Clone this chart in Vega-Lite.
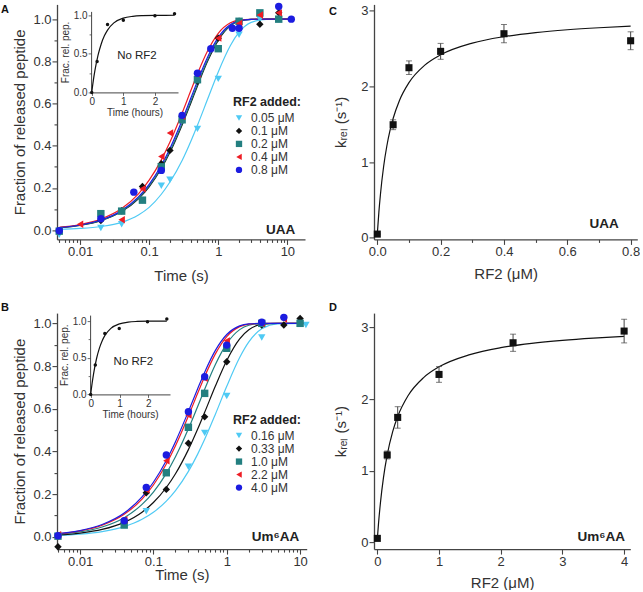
{
  "$schema": "https://vega.github.io/schema/vega-lite/v6.json",
  "background": "white",
  "padding": {"left": 1, "top": 2.4, "right": 0, "bottom": 0},
  "columns": 2,
  "align": "each",
  "spacing": {"row": 17.7, "column": 19},
  "resolve": {"scale": {"color": "independent", "shape": "independent", "stroke": "independent"}},
  "concat": [
    {
      "title": {"text": "A", "dx": -56, "dy": 12.6, "offset": 0},
      "width": 248, "height": 235,
      "resolve": {"scale": {"x": "independent", "y": "independent"}},
      "layer": [
        {
          "encoding": {
            "x": {"field": "t", "type": "quantitative", "scale": {"type": "log", "domain": [0.00464, 18], "nice": false},
              "axis": {"title": "Time (s)", "titlePadding": 10.5,
                "values": [0.005,0.006,0.007,0.008,0.009,0.01,0.02,0.03,0.04,0.05,0.06,0.07,0.08,0.09,0.1,0.2,0.3,0.4,0.5,0.6,0.7,0.8,0.9,1,2,3,4,5,6,7,8,9,10],
                "labelExpr": "datum.value == 0.01 || datum.value == 0.1 || datum.value == 1 || datum.value == 10 ? datum.value + '' : ''",
                "tickSize": {"condition": {"test": "datum.value == 0.01 || datum.value == 0.1 || datum.value == 1 || datum.value == 10", "value": 5}, "value": 3}}},
            "y": {"field": "f", "type": "quantitative", "scale": {"domain": [-0.044, 1.07], "nice": false, "zero": false},
              "axis": {"title": "Fraction of released peptide", "titlePadding": 5,
                "values": [0,0.1,0.2,0.3,0.4,0.5,0.6,0.7,0.8,0.9,1], "format": ".1f",
                "labelExpr": "round(datum.value*10) % 2 == 0 ? datum.label : ''",
                "tickSize": {"condition": {"test": "round(datum.value*10) % 2 == 0", "value": 5}, "value": 3}}}
          },
          "layer": [
            {
              "data": {"values": [
                {"t":0.005,"f":0.004,"c":"0.05"},{"t":0.01,"f":0.008,"c":"0.05"},{"t":0.02,"f":0.017,"c":"0.05"},{"t":0.04,"f":0.037,"c":"0.05"},{"t":0.07,"f":0.072,"c":"0.05"},{"t":0.1,"f":0.108,"c":"0.05"},{"t":0.15,"f":0.17,"c":"0.05"},{"t":0.2,"f":0.228,"c":"0.05"},{"t":0.3,"f":0.33,"c":"0.05"},{"t":0.4,"f":0.42,"c":"0.05"},{"t":0.5,"f":0.497,"c":"0.05"},{"t":0.7,"f":0.62,"c":"0.05"},{"t":1,"f":0.75,"c":"0.05"},{"t":1.5,"f":0.875,"c":"0.05"},{"t":2,"f":0.938,"c":"0.05"},{"t":3,"f":0.985,"c":"0.05"},{"t":5,"f":0.999,"c":"0.05"},{"t":12,"f":1.0,"c":"0.05"},
                {"t":0.005,"f":0.0114,"c":"0.1"},{"t":0.01,"f":0.0227,"c":"0.1"},{"t":0.02,"f":0.045,"c":"0.1"},{"t":0.04,"f":0.0879,"c":"0.1"},{"t":0.07,"f":0.1487,"c":"0.1"},{"t":0.1,"f":0.2055,"c":"0.1"},{"t":0.15,"f":0.2918,"c":"0.1"},{"t":0.2,"f":0.3687,"c":"0.1"},{"t":0.3,"f":0.4984,"c":"0.1"},{"t":0.4,"f":0.6015,"c":"0.1"},{"t":0.5,"f":0.6834,"c":"0.1"},{"t":0.7,"f":0.8001,"c":"0.1"},{"t":1,"f":0.8997,"c":"0.1"},{"t":1.5,"f":0.9683,"c":"0.1"},{"t":2,"f":0.99,"c":"0.1"},{"t":3,"f":0.999,"c":"0.1"},{"t":5,"f":1.0,"c":"0.1"},{"t":12,"f":1.0,"c":"0.1"},
                {"t":0.005,"f":0.0117,"c":"0.2"},{"t":0.01,"f":0.0232,"c":"0.2"},{"t":0.02,"f":0.0459,"c":"0.2"},{"t":0.04,"f":0.0897,"c":"0.2"},{"t":0.07,"f":0.1517,"c":"0.2"},{"t":0.1,"f":0.2095,"c":"0.2"},{"t":0.15,"f":0.2971,"c":"0.2"},{"t":0.2,"f":0.375,"c":"0.2"},{"t":0.3,"f":0.5059,"c":"0.2"},{"t":0.4,"f":0.6094,"c":"0.2"},{"t":0.5,"f":0.6912,"c":"0.2"},{"t":0.7,"f":0.807,"c":"0.2"},{"t":1,"f":0.9046,"c":"0.2"},{"t":1.5,"f":0.9705,"c":"0.2"},{"t":2,"f":0.9909,"c":"0.2"},{"t":3,"f":0.9991,"c":"0.2"},{"t":5,"f":1.0,"c":"0.2"},{"t":12,"f":1.0,"c":"0.2"},
                {"t":0.005,"f":0.0134,"c":"0.4"},{"t":0.01,"f":0.0266,"c":"0.4"},{"t":0.02,"f":0.0526,"c":"0.4"},{"t":0.04,"f":0.1024,"c":"0.4"},{"t":0.07,"f":0.1722,"c":"0.4"},{"t":0.1,"f":0.2366,"c":"0.4"},{"t":0.15,"f":0.333,"c":"0.4"},{"t":0.2,"f":0.4173,"c":"0.4"},{"t":0.3,"f":0.5551,"c":"0.4"},{"t":0.4,"f":0.6604,"c":"0.4"},{"t":0.5,"f":0.7408,"c":"0.4"},{"t":0.7,"f":0.8489,"c":"0.4"},{"t":1,"f":0.9328,"c":"0.4"},{"t":1.5,"f":0.9826,"c":"0.4"},{"t":2,"f":0.9955,"c":"0.4"},{"t":3,"f":0.9997,"c":"0.4"},{"t":5,"f":1.0,"c":"0.4"},{"t":12,"f":1.0,"c":"0.4"},
                {"t":0.005,"f":0.0122,"c":"0.8"},{"t":0.01,"f":0.0242,"c":"0.8"},{"t":0.02,"f":0.0478,"c":"0.8"},{"t":0.04,"f":0.0934,"c":"0.8"},{"t":0.07,"f":0.1576,"c":"0.8"},{"t":0.1,"f":0.2173,"c":"0.8"},{"t":0.15,"f":0.3076,"c":"0.8"},{"t":0.2,"f":0.3874,"c":"0.8"},{"t":0.3,"f":0.5205,"c":"0.8"},{"t":0.4,"f":0.6247,"c":"0.8"},{"t":0.5,"f":0.7063,"c":"0.8"},{"t":0.7,"f":0.82,"c":"0.8"},{"t":1,"f":0.9137,"c":"0.8"},{"t":1.5,"f":0.9747,"c":"0.8"},{"t":2,"f":0.9926,"c":"0.8"},{"t":3,"f":0.9994,"c":"0.8"},{"t":5,"f":1.0,"c":"0.8"},{"t":12,"f":1.0,"c":"0.8"}
              ]},
              "mark": {"type": "line", "strokeWidth": 1.2, "interpolate": "monotone"},
              "encoding": {
                "stroke": {"field": "c", "type": "nominal", "legend": null,
                  "scale": {"domain": ["0.05","0.1","0.2","0.4","0.8"], "range": ["#4fcaf4","#111111","#237f80","#ee1c24","#1c1ce0"]}}
              }
            },
            {
              "data": {"values": [
                {"t":0.005,"f":-0.022,"c":"0.05 μM"},{"t":0.02,"f":0.01,"c":"0.05 μM"},{"t":0.04,"f":0.028,"c":"0.05 μM"},{"t":0.08,"f":0.14,"c":"0.05 μM"},{"t":0.15,"f":0.21,"c":"0.05 μM"},{"t":0.2,"f":0.239,"c":"0.05 μM"},{"t":0.5,"f":0.48,"c":"0.05 μM"},{"t":1,"f":0.717,"c":"0.05 μM"},{"t":2,"f":0.926,"c":"0.05 μM"},{"t":4,"f":1.0,"c":"0.05 μM"},{"t":7.5,"f":1.0,"c":"0.05 μM"},
                {"t":0.005,"f":-0.005,"c":"0.1 μM"},{"t":0.02,"f":0.045,"c":"0.1 μM"},{"t":0.04,"f":0.092,"c":"0.1 μM"},{"t":0.08,"f":0.207,"c":"0.1 μM"},{"t":0.15,"f":0.315,"c":"0.1 μM"},{"t":0.2,"f":0.378,"c":"0.1 μM"},{"t":0.3,"f":0.54,"c":"0.1 μM"},{"t":0.5,"f":0.705,"c":"0.1 μM"},{"t":1,"f":0.91,"c":"0.1 μM"},{"t":2,"f":0.99,"c":"0.1 μM"},{"t":4,"f":0.976,"c":"0.1 μM"},{"t":7.5,"f":1.03,"c":"0.1 μM"},
                {"t":0.005,"f":-0.005,"c":"0.2 μM"},{"t":0.02,"f":0.078,"c":"0.2 μM"},{"t":0.04,"f":0.09,"c":"0.2 μM"},{"t":0.08,"f":0.142,"c":"0.2 μM"},{"t":0.15,"f":0.3,"c":"0.2 μM"},{"t":0.3,"f":0.523,"c":"0.2 μM"},{"t":0.5,"f":0.713,"c":"0.2 μM"},{"t":1,"f":0.86,"c":"0.2 μM"},{"t":2,"f":0.99,"c":"0.2 μM"},{"t":4,"f":1.03,"c":"0.2 μM"},{"t":7.5,"f":1.0,"c":"0.2 μM"},
                {"t":0.01,"f":0.028,"c":"0.4 μM"},{"t":0.04,"f":0.049,"c":"0.4 μM"},{"t":0.08,"f":0.196,"c":"0.4 μM"},{"t":0.15,"f":0.349,"c":"0.4 μM"},{"t":0.2,"f":0.46,"c":"0.4 μM"},{"t":0.3,"f":0.54,"c":"0.4 μM"},{"t":0.5,"f":0.74,"c":"0.4 μM"},{"t":1,"f":0.91,"c":"0.4 μM"},{"t":2,"f":0.98,"c":"0.4 μM"},{"t":4,"f":1.02,"c":"0.4 μM"},{"t":7.5,"f":1.03,"c":"0.4 μM"},
                {"t":0.005,"f":-0.003,"c":"0.8 μM"},{"t":0.02,"f":0.054,"c":"0.8 μM"},{"t":0.06,"f":0.18,"c":"0.8 μM"},{"t":0.15,"f":0.283,"c":"0.8 μM"},{"t":0.3,"f":0.544,"c":"0.8 μM"},{"t":0.5,"f":0.744,"c":"0.8 μM"},{"t":0.78,"f":0.86,"c":"0.8 μM"},{"t":1.6,"f":0.957,"c":"0.8 μM"},{"t":2,"f":0.957,"c":"0.8 μM"},{"t":7.5,"f":1.06,"c":"0.8 μM"},{"t":11.4,"f":1.0,"c":"0.8 μM"}
              ]},
              "mark": {"type": "point", "filled": true, "opacity": 1, "size": 55},
              "encoding": {
                "color": {"field": "c", "type": "nominal",
                  "scale": {"domain": ["0.05 μM","0.1 μM","0.2 μM","0.4 μM","0.8 μM"], "range": ["#4fcaf4","#111111","#237f80","#ee1c24","#1c1ce0"]},
                  "legend": {"title": "RF2 added:", "orient": "none", "legendX": 176, "legendY": 92}},
                "shape": {"field": "c", "type": "nominal",
                  "scale": {"domain": ["0.05 μM","0.1 μM","0.2 μM","0.4 μM","0.8 μM"], "range": ["triangle-down","diamond","square","triangle-left","circle"]},
                  "legend": {"title": "RF2 added:", "orient": "none", "legendX": 176, "legendY": 92}}
              }
            },
            {
              "data": {"values": [{"t": 8, "f": 0.0, "lab": "UAA"}]},
              "mark": {"type": "text", "fontWeight": "bold", "fontSize": 13.5, "color": "#222"},
              "encoding": {"text": {"field": "lab"}}
            }
          ]
        },
        {
          "encoding": {
            "x": {"field": "h", "type": "quantitative", "scale": {"domain": [-0.02, 2.73], "range": [34.1, 121], "nice": false, "zero": false},
              "axis": {"orient": "bottom", "offset": -147, "title": "Time (hours)", "titleFontSize": 10, "labelFontSize": 10, "titlePadding": 1,
                "values": [0,0.5,1,1.5,2,2.5], "format": "d", "labelExpr": "datum.value % 1 == 0 ? datum.label : ''",
                "tickSize": {"condition": {"test": "datum.value % 1 == 0", "value": 3}, "value": 2}, "domainWidth": 1, "tickWidth": 0.8}},
            "y": {"field": "v", "type": "quantitative", "scale": {"domain": [0, 1.05], "range": [88, 7], "nice": false, "zero": false},
              "axis": {"orient": "left", "offset": -34.1, "title": "Frac. rel. pep.", "titleFontSize": 10, "labelFontSize": 10, "titlePadding": 3,
                "values": [0,0.25,0.5,0.75,1], "format": ".1f", "labelExpr": "round(datum.value*4) % 2 == 0 ? datum.label : ''",
                "tickSize": {"condition": {"test": "round(datum.value*4) % 2 == 0", "value": 3}, "value": 2}, "domainWidth": 1, "tickWidth": 0.8}}
          },
          "layer": [
            {
              "data": {"values": [{"h":0,"v":0},{"h":0.05,"v":0.152},{"h":0.1,"v":0.281},{"h":0.2,"v":0.483},{"h":0.3,"v":0.628},{"h":0.4,"v":0.733},{"h":0.5,"v":0.808},{"h":0.7,"v":0.901},{"h":1.0,"v":0.963},{"h":1.3,"v":0.986},{"h":1.6,"v":0.995},{"h":2.0,"v":0.999},{"h":2.62,"v":1.0}]},
              "mark": {"type": "line", "color": "#111", "strokeWidth": 1.2, "interpolate": "monotone"}
            },
            {
              "data": {"values": [{"h":0,"v":0},{"h":0.17,"v":0.4},{"h":0.5,"v":0.88},{"h":1.0,"v":0.935},{"h":2.0,"v":0.995},{"h":2.62,"v":1.02}]},
              "mark": {"type": "point", "filled": true, "color": "#111", "size": 12, "opacity": 1}
            },
            {
              "data": {"values": [{"h": 1.43, "v": 0.47, "lab": "No RF2"}]},
              "mark": {"type": "text", "fontSize": 11.5, "color": "#222"},
              "encoding": {"text": {"field": "lab"}}
            }
          ]
        }
      ]
    },
    {
      "title": {"text": "C", "dx": -45, "dy": 12.6, "offset": 0},
      "width": 263.3, "height": 235,
      "encoding": {
        "x": {"field": "c", "type": "quantitative", "scale": {"domain": [-0.0104, 0.821], "nice": false, "zero": false},
          "axis": {"title": "RF2 (μM)", "titlePadding": 8, "values": [0,0.1,0.2,0.3,0.4,0.5,0.6,0.7,0.8], "format": ".1f",
            "labelExpr": "round(datum.value*10) % 2 == 0 ? datum.label : ''",
            "tickSize": {"condition": {"test": "round(datum.value*10) % 2 == 0", "value": 5}, "value": 3}}},
        "y": {"field": "k", "type": "quantitative", "scale": {"domain": [-0.02, 3.083], "nice": false, "zero": false},
          "axis": {"title": "kᵣₑₗ (s⁻¹)", "titlePadding": 12, "values": [0,0.5,1,1.5,2,2.5,3], "format": "d",
            "labelExpr": "datum.value % 1 == 0 ? datum.label : ''",
            "tickSize": {"condition": {"test": "datum.value % 1 == 0", "value": 5}, "value": 3}}}
      },
      "layer": [
        {
          "data": {"values": [{"c":0,"k":0.05},{"c":0.005,"k":0.34},{"c":0.01,"k":0.577},{"c":0.02,"k":0.942},{"c":0.03,"k":1.21},{"c":0.04,"k":1.415},{"c":0.05,"k":1.576},{"c":0.07,"k":1.815},{"c":0.1,"k":2.05},{"c":0.15,"k":2.281},{"c":0.2,"k":2.417},{"c":0.3,"k":2.572},{"c":0.4,"k":2.657},{"c":0.5,"k":2.711},{"c":0.6,"k":2.748},{"c":0.7,"k":2.775},{"c":0.8,"k":2.796}]},
          "mark": {"type": "line", "color": "#111", "strokeWidth": 1.2, "interpolate": "monotone"}
        },
        {
          "data": {"values": [{"c":0,"k":0.05,"e":0.0},{"c":0.05,"k":1.494,"e":0.065},{"c":0.1,"k":2.247,"e":0.09},{"c":0.2,"k":2.463,"e":0.105},{"c":0.4,"k":2.696,"e":0.12},{"c":0.8,"k":2.603,"e":0.118}]},
          "layer": [
            {"mark": {"type": "errorbar", "ticks": {"size": 6}, "color": "#444", "thickness": 1}, "encoding": {"yError": {"field": "e"}}},
            {"mark": {"type": "point", "shape": "square", "filled": true, "color": "#111", "size": 50, "opacity": 1}}
          ]
        },
        {
          "data": {"values": [{"c": 0.716, "k": 0.182, "lab": "UAA"}]},
          "mark": {"type": "text", "fontWeight": "bold", "fontSize": 13.5, "color": "#222"},
          "encoding": {"text": {"field": "lab"}}
        }
      ]
    },
    {
      "title": {"text": "B", "dx": -56, "offset": 0},
      "width": 249.7, "height": 236,
      "resolve": {"scale": {"x": "independent", "y": "independent"}},
      "layer": [
        {
          "encoding": {
            "x": {"field": "t", "type": "quantitative", "scale": {"type": "log", "domain": [0.00485, 12.3], "nice": false},
              "axis": {"title": "Time (s)", "titlePadding": -1,
                "values": [0.005,0.006,0.007,0.008,0.009,0.01,0.02,0.03,0.04,0.05,0.06,0.07,0.08,0.09,0.1,0.2,0.3,0.4,0.5,0.6,0.7,0.8,0.9,1,2,3,4,5,6,7,8,9,10],
                "labelExpr": "datum.value == 0.01 || datum.value == 0.1 || datum.value == 1 || datum.value == 10 ? datum.value + '' : ''",
                "tickSize": {"condition": {"test": "datum.value == 0.01 || datum.value == 0.1 || datum.value == 1 || datum.value == 10", "value": 5}, "value": 3}}},
            "y": {"field": "f", "type": "quantitative", "scale": {"domain": [-0.0576, 1.048], "nice": false, "zero": false},
              "axis": {"title": "Fraction of released peptide", "titlePadding": 5,
                "values": [0,0.1,0.2,0.3,0.4,0.5,0.6,0.7,0.8,0.9,1], "format": ".1f",
                "labelExpr": "round(datum.value*10) % 2 == 0 ? datum.label : ''",
                "tickSize": {"condition": {"test": "round(datum.value*10) % 2 == 0", "value": 5}, "value": 3}}}
          },
          "layer": [
            {
              "data": {"values": [
                {"t":0.005,"f":0.0061,"c":"0.16"},{"t":0.01,"f":0.0121,"c":"0.16"},{"t":0.02,"f":0.0241,"c":"0.16"},{"t":0.04,"f":0.0476,"c":"0.16"},{"t":0.07,"f":0.0819,"c":"0.16"},{"t":0.1,"f":0.1149,"c":"0.16"},{"t":0.15,"f":0.1672,"c":"0.16"},{"t":0.2,"f":0.2165,"c":"0.16"},{"t":0.3,"f":0.3065,"c":"0.16"},{"t":0.4,"f":0.3861,"c":"0.16"},{"t":0.5,"f":0.4567,"c":"0.16"},{"t":0.7,"f":0.5743,"c":"0.16"},{"t":1,"f":0.7048,"c":"0.16"},{"t":1.5,"f":0.8396,"c":"0.16"},{"t":2,"f":0.9128,"c":"0.16"},{"t":3,"f":0.9743,"c":"0.16"},{"t":5,"f":0.9978,"c":"0.16"},{"t":12,"f":1.0,"c":"0.16"},
                {"t":0.005,"f":0.0087,"c":"0.33"},{"t":0.01,"f":0.0173,"c":"0.33"},{"t":0.02,"f":0.0344,"c":"0.33"},{"t":0.04,"f":0.0676,"c":"0.33"},{"t":0.07,"f":0.1153,"c":"0.33"},{"t":0.1,"f":0.1605,"c":"0.33"},{"t":0.15,"f":0.2309,"c":"0.33"},{"t":0.2,"f":0.2953,"c":"0.33"},{"t":0.3,"f":0.4084,"c":"0.33"},{"t":0.4,"f":0.5034,"c":"0.33"},{"t":0.5,"f":0.5831,"c":"0.33"},{"t":0.7,"f":0.7063,"c":"0.33"},{"t":1,"f":0.8262,"c":"0.33"},{"t":1.5,"f":0.9276,"c":"0.33"},{"t":2,"f":0.9698,"c":"0.33"},{"t":3,"f":0.9948,"c":"0.33"},{"t":5,"f":0.9998,"c":"0.33"},{"t":12,"f":1.0,"c":"0.33"},
                {"t":0.005,"f":0.0117,"c":"1.0"},{"t":0.01,"f":0.0232,"c":"1.0"},{"t":0.02,"f":0.0459,"c":"1.0"},{"t":0.04,"f":0.0897,"c":"1.0"},{"t":0.07,"f":0.1517,"c":"1.0"},{"t":0.1,"f":0.2095,"c":"1.0"},{"t":0.15,"f":0.2971,"c":"1.0"},{"t":0.2,"f":0.375,"c":"1.0"},{"t":0.3,"f":0.5059,"c":"1.0"},{"t":0.4,"f":0.6094,"c":"1.0"},{"t":0.5,"f":0.6912,"c":"1.0"},{"t":0.7,"f":0.807,"c":"1.0"},{"t":1,"f":0.9046,"c":"1.0"},{"t":1.5,"f":0.9705,"c":"1.0"},{"t":2,"f":0.9909,"c":"1.0"},{"t":3,"f":0.9991,"c":"1.0"},{"t":5,"f":1.0,"c":"1.0"},{"t":12,"f":1.0,"c":"1.0"},
                {"t":0.005,"f":0.0138,"c":"2.2"},{"t":0.01,"f":0.0274,"c":"2.2"},{"t":0.02,"f":0.0541,"c":"2.2"},{"t":0.04,"f":0.1052,"c":"2.2"},{"t":0.07,"f":0.1768,"c":"2.2"},{"t":0.1,"f":0.2427,"c":"2.2"},{"t":0.15,"f":0.341,"c":"2.2"},{"t":0.2,"f":0.4265,"c":"2.2"},{"t":0.3,"f":0.5657,"c":"2.2"},{"t":0.4,"f":0.6711,"c":"2.2"},{"t":0.5,"f":0.7509,"c":"2.2"},{"t":0.7,"f":0.8571,"c":"2.2"},{"t":1,"f":0.938,"c":"2.2"},{"t":1.5,"f":0.9846,"c":"2.2"},{"t":2,"f":0.9962,"c":"2.2"},{"t":3,"f":0.9998,"c":"2.2"},{"t":5,"f":1.0,"c":"2.2"},{"t":12,"f":1.0,"c":"2.2"},
                {"t":0.005,"f":0.0146,"c":"4.0"},{"t":0.01,"f":0.0291,"c":"4.0"},{"t":0.02,"f":0.0573,"c":"4.0"},{"t":0.04,"f":0.1113,"c":"4.0"},{"t":0.07,"f":0.1866,"c":"4.0"},{"t":0.1,"f":0.2555,"c":"4.0"},{"t":0.15,"f":0.3576,"c":"4.0"},{"t":0.2,"f":0.4457,"c":"4.0"},{"t":0.3,"f":0.5873,"c":"4.0"},{"t":0.4,"f":0.6927,"c":"4.0"},{"t":0.5,"f":0.7712,"c":"4.0"},{"t":0.7,"f":0.8732,"c":"4.0"},{"t":1,"f":0.9477,"c":"4.0"},{"t":1.5,"f":0.988,"c":"4.0"},{"t":2,"f":0.9973,"c":"4.0"},{"t":3,"f":0.9999,"c":"4.0"},{"t":5,"f":1.0,"c":"4.0"},{"t":12,"f":1.0,"c":"4.0"}
              ]},
              "mark": {"type": "line", "strokeWidth": 1.2, "interpolate": "monotone"},
              "encoding": {
                "stroke": {"field": "c", "type": "nominal", "legend": null,
                  "scale": {"domain": ["0.16","0.33","1.0","2.2","4.0"], "range": ["#4fcaf4","#111111","#237f80","#ee1c24","#1c1ce0"]}}
              }
            },
            {
              "data": {"values": [
                {"t":0.005,"f":0.003,"c":"0.16 μM"},{"t":0.08,"f":0.12,"c":"0.16 μM"},{"t":0.3,"f":0.328,"c":"0.16 μM"},{"t":0.5,"f":0.487,"c":"0.16 μM"},{"t":1,"f":0.66,"c":"0.16 μM"},{"t":3,"f":0.934,"c":"0.16 μM"},{"t":12,"f":0.992,"c":"0.16 μM"},
                {"t":0.005,"f":-0.047,"c":"0.33 μM"},{"t":0.04,"f":0.066,"c":"0.33 μM"},{"t":0.08,"f":0.206,"c":"0.33 μM"},{"t":0.15,"f":0.222,"c":"0.33 μM"},{"t":0.3,"f":0.438,"c":"0.33 μM"},{"t":0.5,"f":0.562,"c":"0.33 μM"},{"t":1,"f":0.82,"c":"0.33 μM"},{"t":3,"f":0.992,"c":"0.33 μM"},{"t":6,"f":0.992,"c":"0.33 μM"},{"t":10,"f":1.023,"c":"0.33 μM"},
                {"t":0.005,"f":0.003,"c":"1.0 μM"},{"t":0.04,"f":0.055,"c":"1.0 μM"},{"t":0.15,"f":0.3,"c":"1.0 μM"},{"t":0.3,"f":0.513,"c":"1.0 μM"},{"t":0.5,"f":0.672,"c":"1.0 μM"},{"t":1,"f":0.883,"c":"1.0 μM"},{"t":3,"f":1.0,"c":"1.0 μM"},{"t":10,"f":1.0,"c":"1.0 μM"},
                {"t":0.005,"f":0.01,"c":"2.2 μM"},{"t":0.04,"f":0.08,"c":"2.2 μM"},{"t":0.08,"f":0.22,"c":"2.2 μM"},{"t":0.15,"f":0.356,"c":"2.2 μM"},{"t":0.3,"f":0.57,"c":"2.2 μM"},{"t":0.5,"f":0.742,"c":"2.2 μM"},{"t":1,"f":0.918,"c":"2.2 μM"},{"t":3,"f":1.0,"c":"2.2 μM"},{"t":6,"f":1.02,"c":"2.2 μM"},
                {"t":0.005,"f":0.005,"c":"4.0 μM"},{"t":0.04,"f":0.075,"c":"4.0 μM"},{"t":0.08,"f":0.231,"c":"4.0 μM"},{"t":0.15,"f":0.383,"c":"4.0 μM"},{"t":0.3,"f":0.586,"c":"4.0 μM"},{"t":0.5,"f":0.75,"c":"4.0 μM"},{"t":1,"f":0.898,"c":"4.0 μM"},{"t":3,"f":1.005,"c":"4.0 μM"},{"t":6,"f":1.028,"c":"4.0 μM"}
              ]},
              "mark": {"type": "point", "filled": true, "opacity": 1, "size": 55},
              "encoding": {
                "color": {"field": "c", "type": "nominal",
                  "scale": {"domain": ["0.16 μM","0.33 μM","1.0 μM","2.2 μM","4.0 μM"], "range": ["#4fcaf4","#111111","#237f80","#ee1c24","#1c1ce0"]},
                  "legend": {"title": "RF2 added:", "orient": "none", "legendX": 176, "legendY": 101}},
                "shape": {"field": "c", "type": "nominal",
                  "scale": {"domain": ["0.16 μM","0.33 μM","1.0 μM","2.2 μM","4.0 μM"], "range": ["triangle-down","diamond","square","triangle-left","circle"]},
                  "legend": {"title": "RF2 added:", "orient": "none", "legendX": 176, "legendY": 101}}
              }
            },
            {
              "data": {"values": [{"t": 4.63, "f": 0.0, "lab": "Um⁶AA"}]},
              "mark": {"type": "text", "fontWeight": "bold", "fontSize": 13.5, "color": "#222"},
              "encoding": {"text": {"field": "lab"}}
            }
          ]
        },
        {
          "encoding": {
            "x": {"field": "h", "type": "quantitative", "scale": {"domain": [-0.02, 2.75], "range": [33.1, 113], "nice": false, "zero": false},
              "axis": {"orient": "bottom", "offset": -154.7, "title": "Time (hours)", "titleFontSize": 10, "labelFontSize": 10, "titlePadding": 1,
                "values": [0,0.5,1,1.5,2,2.5], "format": "d", "labelExpr": "datum.value % 1 == 0 ? datum.label : ''",
                "tickSize": {"condition": {"test": "datum.value % 1 == 0", "value": 3}, "value": 2}, "domainWidth": 1, "tickWidth": 0.8}},
            "y": {"field": "v", "type": "quantitative", "scale": {"domain": [0, 1.082], "range": [81.3, 2], "nice": false, "zero": false},
              "axis": {"orient": "left", "offset": -33.1, "title": "Frac. rel. pep.", "titleFontSize": 10, "labelFontSize": 10, "titlePadding": 3,
                "values": [0,0.25,0.5,0.75,1], "format": ".1f", "labelExpr": "round(datum.value*4) % 2 == 0 ? datum.label : ''",
                "tickSize": {"condition": {"test": "round(datum.value*4) % 2 == 0", "value": 3}, "value": 2}, "domainWidth": 1, "tickWidth": 0.8}}
          },
          "layer": [
            {
              "data": {"values": [{"h":0,"v":0},{"h":0.05,"v":0.152},{"h":0.1,"v":0.281},{"h":0.2,"v":0.483},{"h":0.3,"v":0.628},{"h":0.4,"v":0.733},{"h":0.5,"v":0.808},{"h":0.7,"v":0.901},{"h":1.0,"v":0.963},{"h":1.3,"v":0.986},{"h":1.6,"v":0.995},{"h":2.0,"v":0.999},{"h":2.64,"v":1.0}]},
              "mark": {"type": "line", "color": "#111", "strokeWidth": 1.2, "interpolate": "monotone"}
            },
            {
              "data": {"values": [{"h":0,"v":0},{"h":0.16,"v":0.4},{"h":0.49,"v":0.83},{"h":0.99,"v":0.9},{"h":1.97,"v":0.99},{"h":2.64,"v":1.03}]},
              "mark": {"type": "point", "filled": true, "color": "#111", "size": 12, "opacity": 1}
            },
            {
              "data": {"values": [{"h": 1.48, "v": 0.445, "lab": "No RF2"}]},
              "mark": {"type": "text", "fontSize": 11.5, "color": "#222"},
              "encoding": {"text": {"field": "lab"}}
            }
          ]
        }
      ]
    },
    {
      "title": {"text": "D", "dx": -45, "offset": 0},
      "width": 256.3, "height": 236,
      "encoding": {
        "x": {"field": "c", "type": "quantitative", "scale": {"domain": [-0.054, 4.1], "nice": false, "zero": false},
          "axis": {"title": "RF2 (μM)", "titlePadding": 7, "values": [0,0.5,1,1.5,2,2.5,3,3.5,4], "format": "d",
            "labelExpr": "datum.value % 1 == 0 ? datum.label : ''",
            "tickSize": {"condition": {"test": "datum.value % 1 == 0", "value": 5}, "value": 3}}},
        "y": {"field": "k", "type": "quantitative", "scale": {"domain": [-0.0935, 3.2], "nice": false, "zero": false},
          "axis": {"title": "kᵣₑₗ (s⁻¹)", "titlePadding": 12, "values": [0,0.5,1,1.5,2,2.5,3], "format": "d",
            "labelExpr": "datum.value % 1 == 0 ? datum.label : ''",
            "tickSize": {"condition": {"test": "datum.value % 1 == 0", "value": 5}, "value": 3}}}
      },
      "layer": [
        {
          "data": {"values": [{"c":0,"k":0.05},{"c":0.02,"k":0.272},{"c":0.05,"k":0.55},{"c":0.1,"k":0.907},{"c":0.16,"k":1.221},{"c":0.25,"k":1.55},{"c":0.33,"k":1.757},{"c":0.5,"k":2.05},{"c":0.75,"k":2.3},{"c":1,"k":2.45},{"c":1.5,"k":2.621},{"c":2,"k":2.717},{"c":2.5,"k":2.777},{"c":3,"k":2.819},{"c":3.5,"k":2.85},{"c":4,"k":2.874}]},
          "mark": {"type": "line", "color": "#111", "strokeWidth": 1.2, "interpolate": "monotone"}
        },
        {
          "data": {"values": [{"c":0,"k":0.056,"e":0.0},{"c":0.16,"k":1.22,"e":0.055},{"c":0.33,"k":1.744,"e":0.15},{"c":1.0,"k":2.344,"e":0.11},{"c":2.2,"k":2.786,"e":0.12},{"c":4.0,"k":2.949,"e":0.165}]},
          "layer": [
            {"mark": {"type": "errorbar", "ticks": {"size": 6}, "color": "#444", "thickness": 1}, "encoding": {"yError": {"field": "e"}}},
            {"mark": {"type": "point", "shape": "square", "filled": true, "color": "#111", "size": 50, "opacity": 1}}
          ]
        },
        {
          "data": {"values": [{"c": 3.63, "k": 0.078, "lab": "Um⁶AA"}]},
          "mark": {"type": "text", "fontWeight": "bold", "fontSize": 13.5, "color": "#222"},
          "encoding": {"text": {"field": "lab"}}
        }
      ]
    }
  ],
  "config": {
    "font": "Liberation Sans",
    "view": {"stroke": null},
    "axis": {"grid": false, "domainColor": "#444", "domainWidth": 1.3, "tickColor": "#444", "tickWidth": 1.1,
      "labelColor": "#333", "titleColor": "#333", "labelFont": "Liberation Sans", "titleFont": "Liberation Sans",
      "labelFontSize": 13, "titleFontSize": 15, "titleFontWeight": "normal", "labelPadding": 1,
      "labelOverlap": false, "labelFlush": false, "labelBound": false},
    "legend": {"titleFont": "Liberation Sans", "labelFont": "Liberation Sans", "titleFontSize": 12.5, "titleFontWeight": "bold",
      "titleColor": "#222", "labelColor": "#333", "labelFontSize": 12, "symbolSize": 40, "rowPadding": 1, "labelOffset": 6, "titlePadding": 3},
    "title": {"anchor": "start", "frame": "group", "fontSize": 11, "fontWeight": "bold", "color": "#111", "font": "Liberation Sans"}
  }
}
